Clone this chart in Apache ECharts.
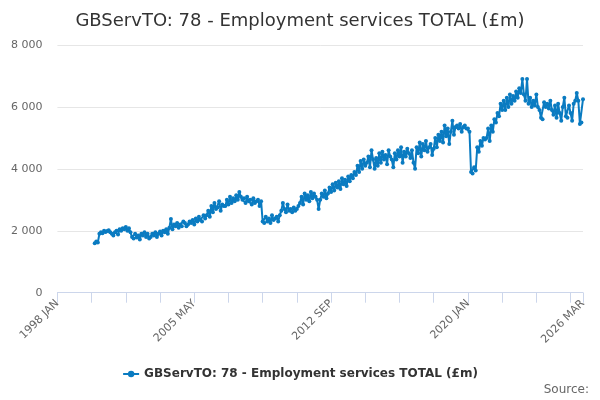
<!DOCTYPE html>
<html>
<head>
<meta charset="utf-8">
<script src="https://cdn.jsdelivr.net/npm/echarts@6/dist/echarts.min.js"></script>
<style>html,body{margin:0;padding:0;background:#fff}#c{width:600px;height:400px}</style>
</head>
<body>
<div id="c"></div>
<script>
var monthNames = ['JAN','FEB','MAR','APR','MAY','JUN','JUL','AUG','SEP','OCT','NOV','DEC'];
var firstYear = 1998, lastYear = 2026, lastMonth = 3;
var dataStartIndex = 24; // 2000 JAN
var values = [
 // 2000
 1600,1650,1620,1900,1950,1920,2000,1960,1990,2020,1950,1900,
 // 2001
 1850,1950,2000,1880,2050,2000,2080,2050,2120,2000,2080,1950,
 // 2002
 1800,1750,1900,1780,1850,1720,1900,1850,1950,1800,1900,1750,
 // 2003
 1800,1900,1850,1950,1800,1900,1980,1850,2000,1950,2050,1900,
 // 2004
 2100,2380,2050,2200,2150,2250,2100,2200,2150,2300,2250,2150,
 // 2005
 2200,2300,2250,2350,2200,2400,2300,2450,2350,2300,2500,2400,
 // 2006
 2500,2650,2450,2800,2600,2900,2700,2750,2950,2650,2850,2800,
 // 2007
 2800,3000,2850,3100,2900,3050,2950,3150,3000,3250,3100,3000,
 // 2008
 3050,2900,3100,2950,3000,2850,3050,2900,2950,3000,2800,2950,
 // 2009
 2300,2250,2450,2300,2400,2250,2500,2350,2400,2450,2300,2500,
 // 2010
 2650,2900,2700,2600,2850,2650,2700,2600,2750,2650,2700,2800,
 // 2011
 2900,3100,2850,3200,3000,3150,2950,3250,3050,3200,3100,3000,
 // 2012
 2700,3000,3200,3100,3300,3050,3200,3400,3250,3500,3300,3550,
 // 2013
 3400,3600,3350,3700,3500,3650,3450,3750,3600,3800,3700,3900,
 // 2014
 3800,4100,3900,4250,4000,4300,4100,4200,4400,4050,4600,4300,
 // 2015
 4000,4350,4100,4500,4200,4550,4300,4450,4150,4600,4400,4300,
 // 2016
 4050,4500,4300,4600,4400,4700,4200,4550,4400,4650,4500,4350,
 // 2017
 4600,4200,4000,4700,4500,4850,4400,4800,4600,4900,4550,4700,
 // 2018
 4800,4450,4650,5000,4700,5100,4900,5200,4850,5400,5050,5300,
 // 2019
 4800,5200,5550,5100,5350,5400,5300,5450,5200,5350,5400,5300,
 // 2020
 5300,5200,3900,3850,4050,3950,4700,4550,4900,4750,5000,4950,
 // 2021
 5000,5300,4900,5400,5200,5600,5500,5800,5700,6100,5900,6200,
 // 2022
 5900,6300,6000,6400,6100,6350,6200,6500,6300,6600,6450,6900,
 // 2023
 6400,6200,6900,6100,6300,6000,6200,6050,6400,6000,5900,5650,
 // 2024
 5600,6150,6000,6100,5950,6200,5900,5750,6050,5650,6100,5800,
 // 2025
 5550,6000,6300,5700,5650,6050,5800,5550,6100,6200,6450,6200,
 // 2026
 5450,5500,6250
];
var yTicks = [0, 2000, 4000, 6000, 8000];
var seriesName = 'GBServTO: 78 - Employment services TOTAL (£m)';
var titleText = 'GBServTO: 78 - Employment services TOTAL (£m)';

var categories = [];
for (var y = firstYear; y <= lastYear; y++) {
  for (var m = 0; m < 12; m++) {
    if (y === lastYear && m >= lastMonth) break;
    categories.push(y + ' ' + monthNames[m]);
  }
}
var seriesData = [];
for (var i = 0; i < categories.length; i++) {
  var k = i - dataStartIndex;
  seriesData.push(k >= 0 && k < values.length ? values[k] : null);
}
var lastIdx = categories.length - 1;

var chart = echarts.init(document.getElementById('c'));
chart.setOption({
  backgroundColor: '#fff',
  animation: false,
  textStyle: { fontFamily: 'DejaVu Sans' },
  title: {
    text: titleText,
    left: 'center',
    top: 7,
    textStyle: { fontSize: 18, fontWeight: 'normal', color: '#333', fontFamily: 'DejaVu Sans' }
  },
  grid: { left: 57.4, right: 17, top: 45, bottom: 107.3 },
  xAxis: {
    type: 'category',
    data: categories,
    boundaryGap: false,
    axisLine: { lineStyle: { color: '#ccd6eb' } },
    axisTick: {
      length: 10,
      lineStyle: { color: '#ccd6eb' },
      interval: function (idx) { return idx % 22 === 0 || idx === lastIdx; }
    },
    axisLabel: {
      rotate: 45,
      color: '#666',
      fontSize: 11,
      margin: 9,
      interval: function (idx) { return idx % 88 === 0 || idx === lastIdx; }
    },
    splitLine: { show: false }
  },
  yAxis: {
    type: 'value',
    min: yTicks[0],
    max: yTicks[yTicks.length - 1],
    interval: 2000,
    axisLine: { show: false },
    axisTick: { show: false },
    axisLabel: {
      color: '#666',
      fontSize: 11,
      margin: 15,
      formatter: function (v) { return String(v).replace(/\B(?=(\d{3})+(?!\d))/g, ' '); }
    },
    splitLine: { lineStyle: { color: '#e6e6e6' } }
  },
  legend: {
    bottom: 15,
    left: 'center',
    itemWidth: 16,
    itemHeight: 8,
    textStyle: { fontSize: 12, fontWeight: 'bold', color: '#333', fontFamily: 'DejaVu Sans' },
    data: [seriesName]
  },
  series: [{
    name: seriesName,
    type: 'line',
    data: seriesData,
    color: '#0a7bc1',
    lineStyle: { width: 2, color: '#0a7bc1' },
    symbol: 'circle',
    symbolSize: 4,
    showSymbol: true,
    showAllSymbol: true,
    itemStyle: { color: '#0a7bc1' }
  }],
  graphic: [{
    type: 'text',
    right: 11,
    bottom: 4,
    style: { text: 'Source:', fill: '#666', fontSize: 12, fontFamily: 'DejaVu Sans' }
  }]
});
</script>
</body>
</html>
